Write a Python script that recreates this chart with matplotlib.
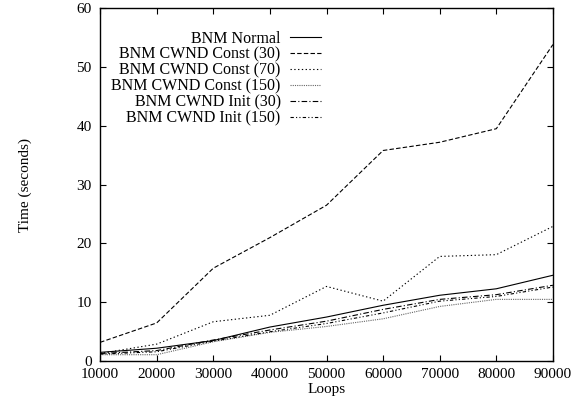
import numpy as np
import matplotlib
matplotlib.use("Agg")
import matplotlib.pyplot as plt

loops = [10000, 20000, 30000, 40000, 50000, 60000, 70000, 80000, 90000]

bnm_normal = [1.5, 2.2, 3.5, 5.8, 7.5, 9.5, 11.2, 12.3, 14.6]
cwnd_const_30 = [3.2, 6.5, 15.8, 21.0, 26.5, 35.8, 37.2, 39.5, 53.8]
cwnd_const_70 = [1.3, 2.9, 6.7, 7.8, 12.7, 10.2, 17.8, 18.1, 22.9]
cwnd_const_150 = [1.1, 1.1, 3.3, 4.9, 5.9, 7.2, 9.3, 10.5, 10.5]
cwnd_init_30 = [1.3, 1.8, 3.6, 5.3, 6.8, 8.8, 10.5, 11.3, 12.9]
cwnd_init_150 = [1.2, 1.6, 3.4, 5.0, 6.4, 8.2, 10.2, 11.0, 12.6]

plt.rcParams['font.family'] = ['Liberation Serif', 'DejaVu Serif']

fig = plt.figure(figsize=(5.82, 4.04), dpi=100)
ax = fig.add_axes([0.172, 0.106, 0.778, 0.874])

lw = 0.8
ax.plot(loops, bnm_normal, color='black', lw=lw, ls='-', label='BNM Normal')
ax.plot(loops, cwnd_const_30, color='black', lw=lw, ls=(0, (4, 2)), label='BNM CWND Const (30)')
ax.plot(loops, cwnd_const_70, color='black', lw=lw, ls=(0, (1.2, 2.2)), label='BNM CWND Const (70)')
ax.plot(loops, cwnd_const_150, color='#666666', lw=lw, ls=(0, (1, 1)), label='BNM CWND Const (150)')
ax.plot(loops, cwnd_init_30, color='black', lw=lw, ls=(0, (5, 2, 1, 2)), label='BNM CWND Init (30)')
ax.plot(loops, cwnd_init_150, color='black', lw=lw, ls=(0, (3, 2, 1, 2, 1, 2)), label='BNM CWND Init (150)')

ax.set_xlim(10000, 90000)
ax.set_ylim(0, 60)
ax.set_xticks(range(10000, 90001, 10000))
ax.set_yticks(range(0, 61, 10))
ax.tick_params(direction='in', top=True, right=True, length=4, labelsize=11)
ax.tick_params(axis='y', pad=6)
ax.tick_params(axis='x', pad=5)
for s in ax.spines.values():
    s.set_linewidth(1.0)

ax.set_xlabel('Loops', fontsize=11, labelpad=1)
ax.set_ylabel('Time (seconds)', fontsize=11, labelpad=32)

ax.legend(loc='upper right', bbox_to_anchor=(0.487, 0.936), frameon=False,
          markerfirst=False, fontsize=11.5, handlelength=1.9, handletextpad=0.6,
          labelspacing=0.0, borderpad=0, borderaxespad=0)

fig.savefig('out.png', dpi=100)
